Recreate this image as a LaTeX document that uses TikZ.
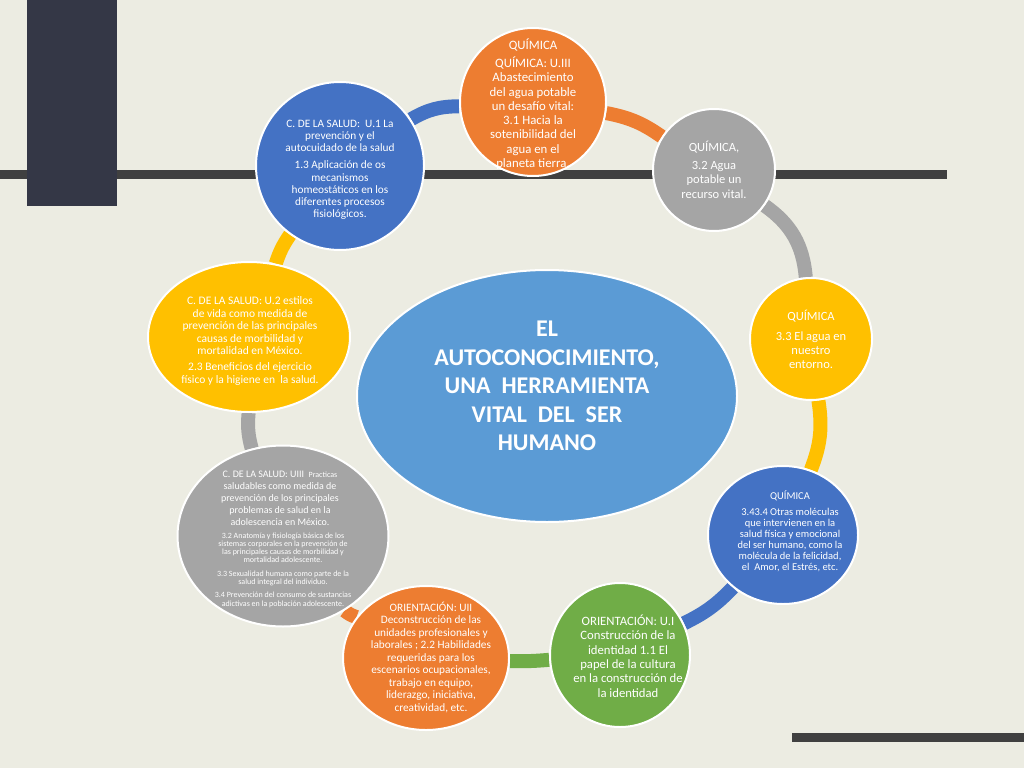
\documentclass[tikz,border=0pt]{standalone}
\usepackage{fontspec}
\setmainfont{Carlito}
\usetikzlibrary{shapes.geometric,backgrounds}
\definecolor{bgc}{RGB}{236,236,226}
\definecolor{orng}{RGB}{237,125,49}
\definecolor{gry}{RGB}{165,165,165}
\definecolor{ylw}{RGB}{255,192,0}
\definecolor{blu}{RGB}{68,114,196}
\definecolor{grn}{RGB}{112,173,71}
\definecolor{lblu}{RGB}{91,155,213}
\definecolor{barc}{RGB}{64,64,64}
\definecolor{navy}{RGB}{52,55,70}
\tikzset{
  bubble/.style={ellipse, draw=white, line width=2pt, inner sep=0pt},
  txt/.style={text=white, align=center, inner sep=0pt},
  ring/.style={line width=14pt},
}
\begin{document}
\begin{tikzpicture}[x=1pt,y=-1pt]
\useasboundingbox (0,0) rectangle (1024,768);
% bubbles
\node[bubble, fill=lblu, minimum width=380pt, minimum height=252pt] (c0) at (547,396) {};
\node[bubble, fill=blu,  minimum width=168pt, minimum height=168pt] (c1) at (340,166) {};
\node[bubble, fill=orng, minimum width=146pt, minimum height=148pt] (c2) at (533,102) {};
\node[bubble, fill=gry,  minimum width=122pt, minimum height=122pt] (c3) at (714,170) {};
\node[bubble, fill=ylw,  minimum width=122pt, minimum height=122pt] (c4) at (811,339) {};
\node[bubble, fill=blu,  minimum width=150pt, minimum height=138pt] (c5) at (783,535) {};
\node[bubble, fill=grn,  minimum width=140pt, minimum height=144pt] (c6) at (620,655) {};
\node[bubble, fill=orng, minimum width=166pt, minimum height=144pt] (c7) at (426,658) {};
\node[bubble, fill=gry,  minimum width=211pt, minimum height=181pt] (c8) at (283,536) {};
\node[bubble, fill=ylw,  minimum width=202pt, minimum height=150pt] (c9) at (249,337) {};
% texts
\node[txt, font=\fontsize{24}{28.5}\selectfont\bfseries] (tc) at (547,386)
  {EL\\AUTOCONOCIMIENTO,\\UNA\ \ HERRAMIENTA\\VITAL\ \ DEL\ \ SER\\HUMANO};
\node[txt, font=\fontsize{11.3}{12.3}\selectfont] (t1) at (340,170)
  {C. DE LA SALUD:\ \ U.1 La\\prevención y el\\autocuidado de la salud\\[4.5pt]1.3 Aplicación de os\\mecanismos\\homeostáticos en los\\diferentes procesos\\fisiológicos.};
\node[txt, font=\fontsize{12.8}{14.3}\selectfont] (t2) at (533,104)
  {QUÍMICA\\[4pt]QUÍMICA: U.III\\Abastecimiento\\del agua potable\\un desafío vital:\\3.1 Hacia la\\sotenibilidad del\\agua en el\\planeta tierra.};
\node[txt, font=\fontsize{12.5}{14.5}\selectfont] (t3) at (714,170)
  {QUÍMICA,\\[3pt]3.2 Agua\\potable un\\recurso vital.};
\node[txt, font=\fontsize{12.5}{14}\selectfont] (t4) at (811,339)
  {QUÍMICA\\[6pt]3.3 El agua en\\nuestro\\entorno.};
\node[txt, font=\fontsize{10.5}{11}\selectfont] (t5) at (790,531)
  {QUÍMICA\\[5pt]3.43.4 Otras moléculas\\que intervienen en la\\salud física y emocional\\del ser humano, como la\\molécula de la felicidad,\\el\ \ Amor, el Estrés, etc.};
\node[txt, font=\fontsize{12.7}{14.3}\selectfont] (t6) at (628,656)
  {ORIENTACIÓN: U.I\\Construcción de la\\identidad 1.1 El\\papel de la cultura\\en la construcción de\\la identidad};
\node[txt, font=\fontsize{11.3}{12.5}\selectfont] (t7) at (431,657)
  {ORIENTACIÓN: UII\\Deconstrucción de las\\unidades profesionales y\\laborales ; 2.2 Habilidades\\requeridas para los\\escenarios ocupacionales,\\trabajo en equipo,\\liderazgo, iniciativa,\\creatividad, etc.};
\node[txt, font=\fontsize{10}{12}\selectfont] (t8a) at (280,498)
  {C. DE LA SALUD: UIII\ \ {\fontsize{8}{12}\selectfont Practicas}\\saludables como medida de\\prevención de los principales\\problemas de salud en la\\adolescencia en México.};
\node[txt, font=\fontsize{8}{8.3}\selectfont] (t8b) at (283,570)
  {3.2 Anatomía y fisiología básica de los\\sistemas corporales en la prevención de\\las principales causas de morbilidad y\\mortalidad adolescente.\\[5pt]3.3 Sexualidad humana como parte de la\\salud integral del individuo.\\[5pt]3.4 Prevención del consumo de sustancias\\adictivas en la población adolescente.};
\node[txt, font=\fontsize{11.5}{12.5}\selectfont] (t9) at (250,341)
  {C. DE LA SALUD: U.2 estilos\\de vida como medida de\\prevención de las principales\\causas de morbilidad y\\mortalidad en México.\\[3.5pt]2.3 Beneficios del ejercicio\\físico y la higiene en\ \ la salud.};
% background layer
\begin{scope}[on background layer]
  \fill[bgc] (0,0) rectangle (1024,768);
  \fill[barc] (0,170) rectangle (947,179);
  \fill[barc] (792,733) rectangle (1024,742);
  \fill[navy] (27,0) rectangle (117,206);
  \draw[ring, blu]  (c1) to[bend left=15] (c2);
  \draw[ring, orng] (c2) to[bend left=12] (c3);
  \draw[ring, gry]  (c3) to[bend left=25] (c4);
  \draw[ring, ylw]  (c4) to[bend left=15] (c5);
  \draw[ring, blu]  (c5) to[bend left=10] (c6);
  \draw[ring, grn]  (c6) to[bend left=3] (c7);
  \draw[ring, orng] (c7) to[bend left=10] (c8);
  \draw[ring, gry]  (c8) to[bend left=10] (c9);
  \draw[ring, ylw]  (c9) to[bend left=8] (c1);
\end{scope}
\end{tikzpicture}
\end{document}
